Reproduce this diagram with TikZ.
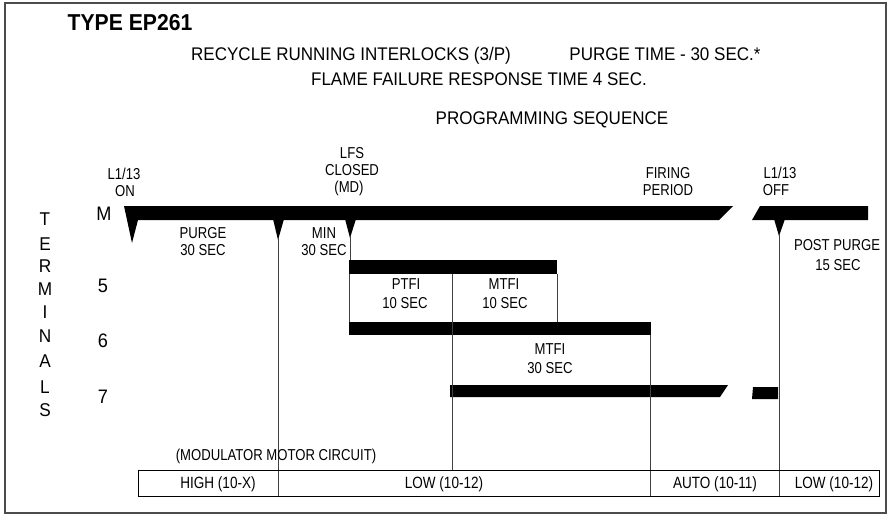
\documentclass[tikz,border=0pt]{standalone}
\usepackage{fontspec}
\setmainfont{Liberation Sans}
\newfontfamily\labfont[FakeStretch=0.83]{Liberation Sans}
\newfontfamily\hdrfont[FakeStretch=0.93]{Liberation Sans}
\newfontfamily\titfont[FakeStretch=0.92]{Liberation Sans}
\tikzset{
  lab/.style={font=\labfont\fontsize{15.8}{17}\selectfont, inner sep=0pt, outer sep=0pt, anchor=base},
  hdr/.style={font=\hdrfont\fontsize{18.3}{20}\selectfont, inner sep=0pt, outer sep=0pt, anchor=base},
  term/.style={font=\hdrfont\fontsize{18.5}{20}\selectfont, inner sep=0pt, outer sep=0pt, anchor=base},
  num/.style={font=\hdrfont\fontsize{19.5}{21}\selectfont, inner sep=0pt, outer sep=0pt, anchor=base},
  tab/.style={font=\labfont\fontsize{16.3}{18}\selectfont, inner sep=0pt, outer sep=0pt, anchor=base},
  ttl/.style={font=\titfont\bfseries\fontsize{23}{25}\selectfont, inner sep=0pt, outer sep=0pt, anchor=base},
  vline/.style={draw=black!75, line width=1pt},
  frameline/.style={draw=black!70, line width=1.3pt},
  tabline/.style={draw=black, line width=1pt},
  barfill/.style={fill=black},
}
\begin{document}
\begin{tikzpicture}[x=1pt,y=-1pt]
\useasboundingbox (0,0) rectangle (890,515);
\draw[frameline] (5,3) rectangle (886,513);

% titles
\node[ttl] (title) at (130,30) {TYPE EP261};
\node[hdr] (h1a) at (351,60) {RECYCLE RUNNING INTERLOCKS (3/P)};
\node[hdr] (h1b) at (665,60) {PURGE TIME - 30 SEC.*};
\node[hdr] (h2) at (479,85) {FLAME FAILURE RESPONSE TIME 4 SEC.};
\node[hdr] (h3) at (552,124) {PROGRAMMING SEQUENCE};

% top labels
\node[lab] (on1) at (124,179) {L1/13};
\node[lab] (on2) at (125,196) {ON};
\node[lab] (lfs1) at (352,158) {LFS};
\node[lab] (lfs2) at (352,175) {CLOSED};
\node[lab] (lfs3) at (349,192) {(MD)};
\node[lab] (fp1) at (668,178) {FIRING};
\node[lab] (fp2) at (668,195) {PERIOD};
\node[lab] (off1) at (780,178) {L1/13};
\node[lab] (off2) at (776,195) {OFF};

% terminals
\node[term] (tT) at (45,225) {T};
\node[term] (tE) at (45,250) {E};
\node[term] (tR) at (45,272) {R};
\node[term] (tM) at (45,295) {M};
\node[term] (tI) at (45,318) {I};
\node[term] (tN) at (45,342) {N};
\node[term] (tA) at (45,367) {A};
\node[term] (tL) at (45,393) {L};
\node[term] (tS) at (45,416) {S};
\node[num] (nM) at (104,220) {M};
\node[num] (n5) at (103,292) {5};
\node[num] (n6) at (103,347) {6};
\node[num] (n7) at (103,403) {7};

% bars
\fill[barfill] (124,206) -- (733,206) -- (719,220) -- (138,220) -- (132,243) -- cycle;
\fill[barfill] (273,219) -- (284,219) -- (278,240) -- cycle;
\fill[barfill] (345,219) -- (356,219) -- (350,238) -- cycle;
\fill[barfill] (760,206) -- (868,206) -- (868,220) -- (752,220) -- cycle;
\fill[barfill] (774,219) -- (785,219) -- (779,236) -- cycle;
\fill[barfill] (349,260) rectangle (557,274);
\fill[barfill] (349,322) rectangle (651,335);
\fill[barfill] (450,385) -- (728,385) -- (720,397) -- (450,397) -- cycle;
\fill[barfill] (753,387) -- (778,387) -- (778,399) -- (752,399) -- cycle;

% vertical lines
\coordinate (p2t) at (278,238); \coordinate (p2b) at (278,496);
\coordinate (p3t) at (350,236); \coordinate (p3b) at (350,260);
\coordinate (p4t) at (349.5,274); \coordinate (p4b) at (349.5,322);
\coordinate (p5t) at (452,274); \coordinate (p5b) at (452,470);
\coordinate (p6t) at (557,274); \coordinate (p6b) at (557,322);
\coordinate (p7t) at (650,335); \coordinate (p7b) at (650,496);
\coordinate (p8t) at (779,234); \coordinate (p8b) at (779,496);
\draw[vline] (p2t) -- (p2b);
\draw[vline] (p3t) -- (p3b);
\draw[vline] (p4t) -- (p4b);
\draw[vline] (p5t) -- (p5b);
\draw[vline] (p6t) -- (p6b);
\draw[vline] (p7t) -- (p7b);
\draw[vline] (p8t) -- (p8b);

% interval labels
\node[lab] (pg1) at (203,238) {PURGE};
\node[lab] (pg2) at (203,255) {30 SEC};
\node[lab] (mn1) at (324,238) {MIN};
\node[lab] (mn2) at (324,255) {30 SEC};
\node[lab] (pt1) at (406,289) {PTFI};
\node[lab] (pt2) at (405,308) {10 SEC};
\node[lab] (mt1) at (504,289) {MTFI};
\node[lab] (mt2) at (505,308) {10 SEC};
\node[lab] (mf1) at (550,354) {MTFI};
\node[lab] (mf2) at (550,373) {30 SEC};
\node[lab] (pp1) at (837,250) {POST PURGE};
\node[lab] (pp2) at (838,270) {15 SEC};

% modulator table
\node[lab] (mod) at (276,460) {(MODULATOR MOTOR CIRCUIT)};
\draw[tabline] (138,470) rectangle (879,496);
\node[tab] (c1) at (218,488) {HIGH (10-X)};
\node[tab] (c2) at (444,488) {LOW (10-12)};
\node[tab] (c3) at (715,488) {AUTO (10-11)};
\node[tab] (c4) at (834,488) {LOW (10-12)};
\end{tikzpicture}
\end{document}
